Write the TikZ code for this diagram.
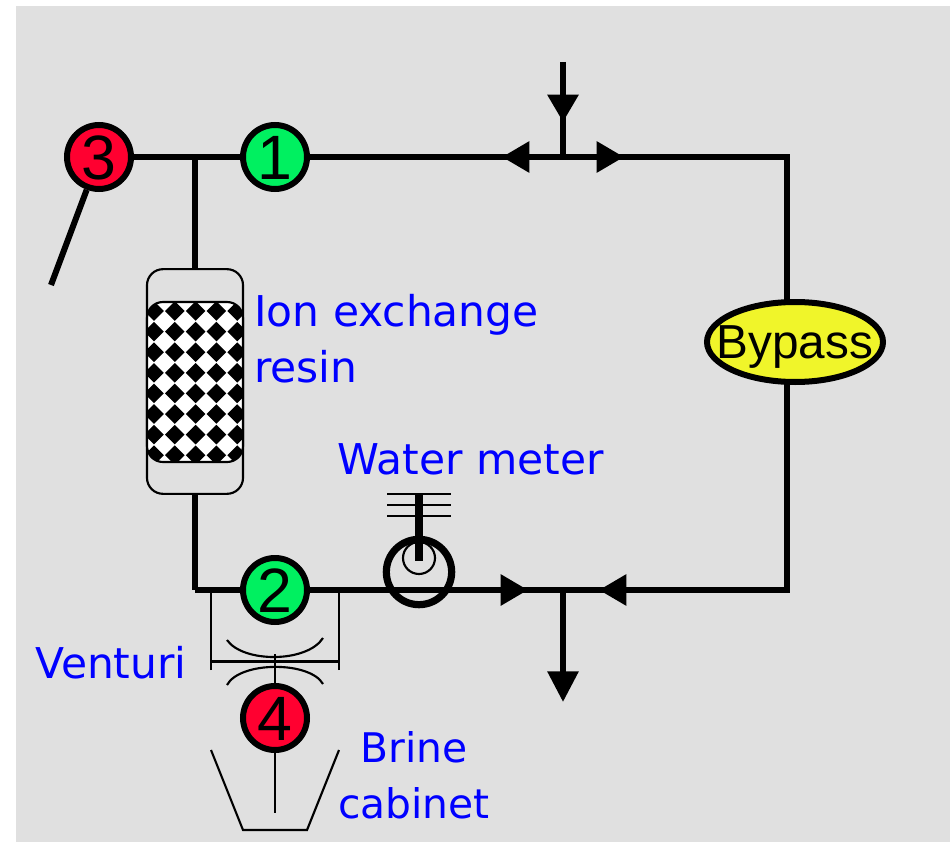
\documentclass[tikz,border=0pt]{standalone}
\usepackage{xcolor}
\usepackage{fontspec}
\setmainfont{Liberation Sans}
\newfontfamily\labelfont{DejaVu Sans}
\usepackage{tikz}
\usetikzlibrary{arrows.meta,positioning,shapes.geometric}
\definecolor{panelgray}{HTML}{E0E0E0}
\definecolor{valvegreen}{HTML}{00F060}
\definecolor{valvered}{HTML}{FF0030}
\definecolor{bypassyellow}{HTML}{F0F52A}

\begin{document}
\begin{tikzpicture}[
  x=0.75pt, y=-0.75pt,
  pipe/.style={line width=4.5pt},
  thinline/.style={line width=1.6pt},
  flow/.style={line width=4.5pt, -{Triangle[length=20.5pt, width=22.5pt]}},
  valve/.style={circle, draw, line width=4.5pt, minimum size=48pt, inner sep=0pt, text height=33pt, text depth=0pt, font=\fontsize{47}{47}\selectfont},
  caption/.style={text=blue, align=left, inner sep=0pt, anchor=base west, font=\labelfont\fontsize{31.8}{42}\selectfont}
]
\useasboundingbox (0,0) rectangle (950,842);
\fill[panelgray] (16,6) rectangle (950,842);
% pipe corners and tees
\coordinate (tee) at (195,157);
\coordinate (topright) at (787,157);
\coordinate (botright) at (787,590);
\coordinate (botleft) at (195,590);
\coordinate (topjoin) at (563,157);
\coordinate (botjoin) at (563,590);
\coordinate (topin) at (563,62);
\coordinate (topinend) at (563,122);
\coordinate (topleftend) at (502,157);
\coordinate (toprightend) at (624,157);
\coordinate (botleftend) at (528,590);
\coordinate (botrightend) at (599,590);
\coordinate (botout) at (563,702);
\coordinate (drain) at (51,285);
% resin column
\node[draw, line width=1.6pt, rounded corners=12pt, minimum width=72pt, minimum height=168.5pt, inner sep=0pt] (column) at (195,381.5) {};
\fill[white, rounded corners=12pt] (147,302) rectangle (243,462);
\begin{scope}
  \clip[rounded corners=12pt] (147,302) rectangle (243,462);
  \foreach \row in {0,...,7}
    \foreach \col in {0,...,4}
      \fill ({154+20.8*\col-9.8},{311+20.6*\row}) -- ++(9.8,-9.8) -- ++(9.8,9.8) -- ++(-9.8,9.8) -- cycle;
\end{scope}
\draw[thinline, rounded corners=12pt] (147,302) rectangle (243,462);
% main circuit
\draw[pipe] (tee) -- (column.north);
\draw[pipe] (column.south) -- (botleft);
\draw[pipe, line join=miter] (botleft) -- (botright) -- (topright) -- (tee) -- (99,157);
\draw[flow] (topin) -- (topinend);
\draw[pipe] (563,112) -- (topjoin);
\draw[flow] (topjoin) -- (topleftend);
\draw[flow] (topjoin) -- (toprightend);
\draw[flow] (490,590) -- (botleftend);
\draw[flow] (636,590) -- (botrightend);
\draw[flow, -{Triangle[length=23pt, width=22.5pt]}] (botjoin) -- (botout);
% venturi
\coordinate (ventl) at (211,590);
\coordinate (ventr) at (339,590);
\draw[thinline] (211,670) -- (ventl);
\draw[thinline] (339,670) -- (ventr);
\draw[thinline] (211,661.5) -- (339,661.5);
\draw[thinline] (227,640) .. controls (243,663) and (307,663) .. (323,638);
\draw[thinline] (227,685) .. controls (240,661) and (310,661) .. (323,684);
\draw[thinline] (275,654) -- (275,690);
% brine cabinet
\draw[thinline] (211,750) -- (243,830) -- (307,830) -- (339,750);
\draw[thinline] (275,740) -- (275,813);
% water meter
\draw[thinline] (387,494) -- (451,494);
\draw[thinline] (387,505) -- (451,505);
\draw[thinline] (387,516) -- (451,516);
\node[circle, draw, thinline, minimum size=24pt, inner sep=0pt] (dial) at (419,558) {};
\node[circle, draw, line width=5.4pt, minimum size=49pt, inner sep=0pt] (meter) at (419,572) {};
\draw[line width=5.6pt] (419,494) -- (419,561);
% valves
\node[valve, fill=valvered] (v3) at (99,157) {3};
\node[valve, fill=valvegreen] (v1) at (275,157) {1};
\node[valve, fill=valvegreen] (v2) at (275,590) {2};
\node[valve, fill=valvered] (v4) at (275,718) {4};
\draw[pipe] (v3) -- (drain);
\node[ellipse, draw, fill=bypassyellow, line width=4.5pt, minimum width=132pt, minimum height=60pt, inner xsep=-30pt, inner ysep=-12pt, text depth=0pt, font=\fontsize{35.8}{36}\selectfont] (bypass) at (795,342) {Bypass};
% labels
\node[caption] (resin) at (254,382) {Ion exchange\\resin};
\node[caption] (watermeter) at (337,474) {Water meter};
\node[caption] (venturi) at (35,678) {Venturi};
\node[caption, align=center, anchor=base, font=\labelfont\fontsize{30.6}{42}\selectfont] (brine) at (414,818) {Brine\\cabinet};
\end{tikzpicture}
\end{document}
